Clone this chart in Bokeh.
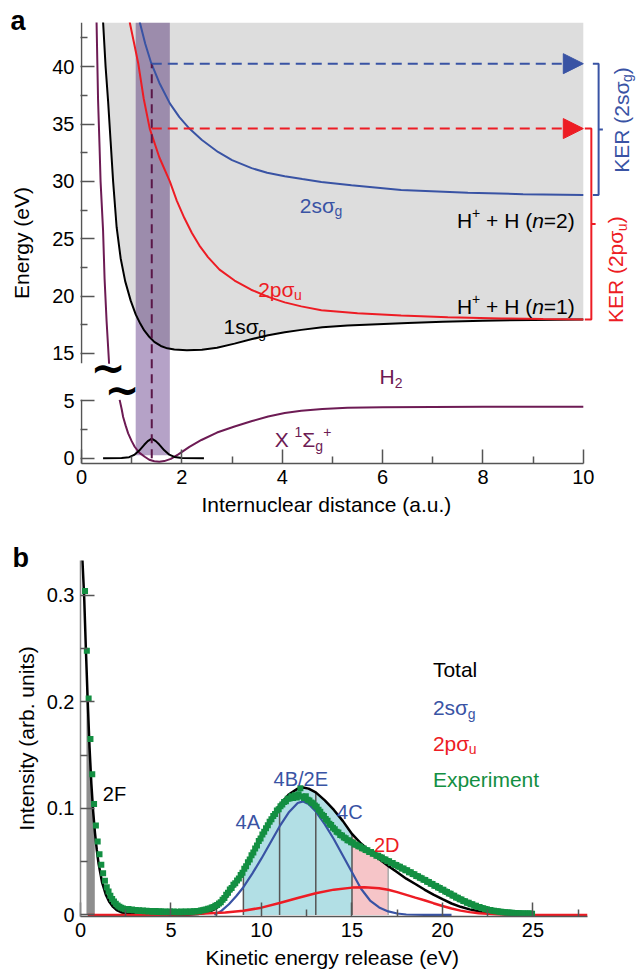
import numpy as np
from math import pi
from bokeh.plotting import figure
from bokeh.layouts import column
from bokeh.models import (FixedTicker, CustomJSTickFormatter, Arrow, NormalHead, Range1d, Title)
from bokeh.core.properties import value
from bokeh.embed import file_html
from bokeh.resources import INLINE

FONT = "Liberation Sans"
BLUE = "#3953a4"
RED = "#ed1c24"
PURPLE = "#6d1b54"
GREEN = "#138f42"
AX = "#555555"

# ------------------------------------------------------------------ panel a data
OFFSET = 5.85  # axis break: energies above the break are drawn shifted down by OFFSET

r_1s = [0.43, 0.48, 0.53, 0.58, 0.63, 0.70, 0.78, 0.87, 0.98, 1.08, 1.17, 1.25, 1.35, 1.45,
        1.58, 1.71, 1.85, 2.10, 2.40, 2.70, 3.05, 3.40, 3.72, 4.05, 4.38, 4.80, 5.30, 5.90,
        6.50, 7.20, 8.00, 9.00, 10.00]
e_1s = [43.9, 40.0, 37.0, 33.5, 30.0, 26.0, 23.3, 21.3, 19.6, 18.4, 17.6, 17.0, 16.45, 16.0,
        15.65, 15.44, 15.33, 15.28, 15.32, 15.5, 15.85, 16.25, 16.58, 16.85, 17.05, 17.27, 17.43, 17.55,
        17.66, 17.76, 17.85, 17.92, 17.96]

r_2p = [0.96, 1.05, 1.13, 1.24, 1.36, 1.55, 1.76, 1.90, 2.05, 2.20, 2.35, 2.52, 2.75, 3.05,
        3.38, 3.72, 4.05, 4.38, 4.78, 5.50, 6.37, 7.30, 8.37, 9.20, 10.00]
e_2p = [43.9, 42.0, 40.3, 37.2, 34.6, 32.1, 30.0, 28.3, 26.8, 25.5, 24.4, 23.4, 22.3, 21.35,
        20.55, 19.93, 19.45, 19.1, 18.77, 18.5, 18.3, 18.15, 18.05, 18.0, 17.96]

r_2s = [1.16, 1.27, 1.39, 1.55, 1.76, 1.95, 2.15, 2.40, 2.72, 3.00, 3.39, 3.70, 4.05, 4.40,
        4.78, 5.38, 6.37, 7.70, 8.80, 10.00]
e_2s = [43.9, 42.0, 40.3, 38.6, 36.8, 35.6, 34.6, 33.6, 32.56, 31.85, 31.15, 30.75, 30.45, 30.2,
        29.95, 29.66, 29.25, 29.0, 28.88, 28.8]

r_h2_wall = [0.30, 0.33, 0.36, 0.38, 0.43, 0.46, 0.50, 0.55]
e_h2_wall = [43.9, 37.1, 33.0, 30.0, 25.7, 21.5, 17.8, 14.1]

r_h2 = [0.76, 0.80, 0.83, 0.88, 0.93, 1.00, 1.06, 1.15, 1.26, 1.35, 1.45, 1.55, 1.65, 1.78,
        1.93, 2.15, 2.39, 2.70, 3.05, 3.40, 3.72, 4.05, 4.38, 4.80, 5.30, 6.00, 7.00, 8.00, 10.00]
e_h2 = [5.1, 4.3, 3.6, 2.85, 2.18, 1.5, 1.01, 0.5, 0.14, -0.12, -0.26, -0.3, -0.24, -0.05,
        0.35, 1.0, 1.6, 2.25, 2.78, 3.25, 3.65, 3.95, 4.15, 4.3, 4.4, 4.45, 4.48, 4.5, 4.5]

r_psi = [0.43, 0.80, 0.95, 1.05, 1.15, 1.25, 1.32, 1.40, 1.48, 1.55, 1.65, 1.75, 1.85, 2.00, 2.44]
a_psi = [0.0, 0.02, 0.10, 0.30, 0.68, 1.18, 1.50, 1.72, 1.50, 1.20, 0.70, 0.32, 0.12, 0.02, 0.0]

fc_region = [1.08, 1.76]      # Franck-Condon region (a.u.)
r_eq = 1.40                   # equilibrium distance
ker_2s_top = 40.26            # eV, energy at r_eq on 2s sigma_g
ker_2p_top = 34.6             # eV, energy at r_eq on 2p sigma_u

yticks_lower = [0, 5]
yticks_upper = [15, 20, 25, 30, 35, 40]
yminor_lower = [2.5]
yminor_upper = [17.5, 22.5, 27.5, 32.5, 37.5, 42.5]
xticks_a = [0, 2, 4, 6, 8, 10]
xminor_a = [1, 3, 5, 7, 9]

# ------------------------------------------------------------------ panel b data
tot_x = [0.10, 0.20, 0.30, 0.40, 0.50, 0.60, 0.70, 0.80, 0.90, 1.00, 1.20, 1.40, 1.60, 1.80, 2.00,
         2.30, 2.60, 3.00, 4.00, 5.00, 6.00, 6.50, 7.00, 7.50, 8.00, 8.50, 9.00, 9.50, 10.00,
         10.50, 11.00, 11.50, 12.00, 12.30, 12.60, 13.00, 13.50, 14.00, 14.50, 15.00, 15.50,
         16.00, 16.50, 17.00, 17.50, 18.00, 18.50, 19.00, 19.50, 20.00, 20.50, 21.00, 21.50,
         22.00, 22.50, 23.00, 24.00, 25.00]
tot_y = [0.335, 0.300, 0.248, 0.200, 0.157, 0.123, 0.097, 0.077, 0.061, 0.048, 0.030, 0.019,
         0.012, 0.0075, 0.0046, 0.0022, 0.0011, 0.0005, 0.0002, 0.0002, 0.0004, 0.0009, 0.0022,
         0.0060, 0.0150, 0.0270, 0.0420, 0.0585, 0.0750, 0.0900, 0.1030, 0.1130, 0.1185, 0.1195,
         0.1185, 0.1150, 0.1075, 0.0985, 0.0880, 0.0760, 0.0670, 0.0595, 0.0525, 0.0460, 0.0400,
         0.0340, 0.0290, 0.0238, 0.0190, 0.0147, 0.0107, 0.0076, 0.0052, 0.0034, 0.0020, 0.0012,
         0.0004, 0.0001]

sg_x = [7.40, 7.80, 8.20, 8.60, 9.00, 9.50, 10.00, 10.50, 11.00, 11.50, 12.00, 12.30, 12.60,
        13.00, 13.50, 14.00, 14.50, 15.00, 15.50, 16.00, 16.50, 17.00, 17.50, 18.00, 19.00, 20.50]
sg_y = [0.0, 0.0040, 0.0100, 0.0175, 0.0260, 0.0390, 0.0530, 0.0680, 0.0830, 0.0960, 0.1050,
        0.1065, 0.1040, 0.0970, 0.0850, 0.0710, 0.0555, 0.0400, 0.0245, 0.0135, 0.0070, 0.0033,
        0.0013, 0.0004, 0.0, 0.0]

pu_x = [0.40, 4.0, 6.0, 8.0, 9.0, 10.0, 11.0, 12.0, 13.0, 14.0, 15.0, 15.7, 16.5, 17.0, 17.5,
        18.0, 18.5, 19.0, 19.5, 20.0, 20.5, 21.0, 21.5, 22.0, 23.0, 24.0, 28.0]
pu_y = [0.0, 0.0, 0.0005, 0.0022, 0.0038, 0.0068, 0.0112, 0.0158, 0.0203, 0.0237, 0.0256,
        0.0260, 0.0250, 0.0236, 0.0214, 0.0188, 0.0162, 0.0138, 0.0110, 0.0084, 0.0060, 0.0040,
        0.0026, 0.0015, 0.0005, 0.0001, 0.0]

exp_first_bin = 0.25   # eV, centre of first KER bin
exp_bin_width = 0.1    # eV
exp_y = [
    .304, .248, .203, .165, .132, .104, .084, .069,
    .057, .047, .039, .032, .026, .022, .018, .015, .0125, .0105,
    .0088, .0076, .0066, .0059, .0054, .0050, .0056, .0046, .0050, .0043,
    .0047, .0040, .0044, .0036, .0042, .0034, .0039, .0031, .0037, .0033,
    .0030, .0036, .0028, .0034, .0031, .0026, .0033, .0029, .0025, .0031,
    .0027, .0032, .0024, .0029, .0026, .0032, .0025, .0029, .0031, .0027,
    .0032, .0029, .0035, .0031, .0037, .0035, .0041, .0043, .0048, .0051,
    .0057, .0061, .0069, .0074, .0086, .0093, .0107, .0118, .0142, .0158,
    .0188, .0207, .0238, .0252, .0283, .0297, .0324, .0342, .0374, .0396,
    .0434, .0457, .0493, .0521, .0559, .0586, .0624, .0651, .0694, .0716,
    .0754, .0781, .0814, .0842, .0874, .0897, .0929, .0947, .0979, .0992,
    .1019, .1036, .1059, .1066, .1089, .1092, .1114, .1097, .1123, .1102,
    .1132, .1188, .1112, .1098, .1113, .1081, .1073, .1056, .1049, .1026,
    .1014, .0986, .0969, .0941, .0928, .0901, .0884, .0856, .0843, .0817,
    .0803, .0781, .0774, .0751, .0744, .0726, .0719, .0701, .0699, .0681,
    .0679, .0661, .0658, .0644, .0641, .0626, .0623, .0608, .0606, .0591,
    .0590, .0574, .0573, .0556, .0555, .0541, .0538, .0523, .0521, .0506,
    .0503, .0488, .0486, .0471, .0469, .0454, .0452, .0436, .0435, .0419,
    .0418, .0401, .0400, .0384, .0381, .0366, .0363, .0348, .0345, .0329,
    .0328, .0311, .0308, .0293, .0290, .0274, .0271, .0256, .0253, .0237,
    .0235, .0219, .0216, .0200, .0198, .0182, .0179, .0164, .0161, .0147,
    .0145, .0131, .0129, .0115, .0113, .0100, .0099, .0087, .0086, .0075,
    .0074, .0064, .0063, .0055, .0054, .0047, .0046, .0040, .0040, .0035,
    .0034, .0030, .0030, .0026, .0026, .0023, .0023, .0020, .0020, .0018,
    .0018, .0016, .0016, .0014, .0014, .0013, .0013, .0012, .0012, .0011,
]
exp_x = [round(exp_first_bin + i * exp_bin_width, 3) for i in range(len(exp_y))]

band_2F = [0.33, 0.79]
region_edges = [9, 11, 13, 15, 17]
xticks_b = [0, 5, 10, 15, 20, 25]
xminor_b = [2.5, 7.5, 12.5, 17.5, 22.5, 27.5]
yticks_b = [0, 0.1, 0.2, 0.3]
yminor_b = [0.05, 0.15, 0.25]

# ------------------------------------------------------------------ helpers
CW = {' ': .278, '(': .333, ')': .333, '+': .584, '=': .584, '.': .278, '/': .278,
      'A': .667, 'B': .667, 'C': .722, 'D': .722, 'E': .667, 'F': .611, 'H': .722, 'K': .667,
      'R': .722, 'T': .611, 'X': .667, 'a': .556, 'e': .556, 'g': .556, 'i': .222, 'l': .222,
      'm': .833, 'n': .556, 'o': .556, 'p': .556, 'r': .333, 's': .5, 't': .278, 'u': .556,
      'x': .5, 'σ': .6, 'Σ': .62}


def tw(s, fs):
    return sum(CW.get(c, .556) for c in s) * fs


def rich(p, x, y, parts, color, fs=21, angle=0.0, align="left"):
    sizes = [fs if k in ("n", "i") else round(fs * 0.68) for _, k in parts]
    total = sum(tw(t, s) for (t, _), s in zip(parts, sizes))
    off = -total if align == "right" else (-total / 2 if align == "center" else 0.0)
    for (t, k), s in zip(parts, sizes):
        shift = {"n": 0.0, "i": 0.0, "sub": 0.28 * fs, "sup": -0.38 * fs}[k]
        lead = len(t) - len(t.lstrip(" "))
        core = t.strip(" ")
        trail = len(t) - lead - len(core)
        off += lead * CW[" "] * s
        if core:
            if angle == 0:
                xo, yo = off, shift
            else:
                xo, yo = shift, -off
            p.text(x=[x], y=[y], text=[core], x_offset=xo, y_offset=yo, angle=angle,
                   text_font=value(FONT), text_font_size=f"{s}px", text_color=color,
                   text_font_style="italic" if k == "i" else "normal",
                   text_align="left", text_baseline="alphabetic")
        off += tw(core, s) + trail * CW[" "] * s


def style_axis(ax, label_standoff=6):
    ax.major_tick_in = 14
    ax.major_tick_out = 0
    ax.minor_tick_in = 7
    ax.minor_tick_out = 0
    ax.axis_line_color = AX
    ax.major_tick_line_color = AX
    ax.minor_tick_line_color = AX
    ax.axis_line_width = 1.5
    ax.major_tick_line_width = 1.5
    ax.minor_tick_line_width = 1.5
    ax.major_label_text_font = FONT
    ax.major_label_text_font_size = "20px"
    ax.major_label_text_color = "black"
    ax.axis_label_text_font = FONT
    ax.axis_label_text_font_size = "21px"
    ax.axis_label_text_font_style = "normal"
    ax.axis_label_text_color = "black"
    ax.major_label_standoff = 6
    ax.axis_label_standoff = label_standoff


def panel_letter(p, letter, offset, standoff):
    p.add_layout(Title(text=letter, align="left", offset=offset, standoff=standoff,
                       text_font=FONT, text_font_size="27px", text_font_style="bold",
                       text_color="black"), "above")


def up(e):
    return e - OFFSET


NB = "\u00a0"

# ------------------------------------------------------------------ panel a
TOP_A = 38.0
pa = figure(width=636, height=525, x_range=Range1d(-0.02, 11.06), y_range=Range1d(-0.45, TOP_A),
            output_backend="svg", toolbar_location=None, title=None,
            min_border_left=80, min_border_right=0, min_border_top=22, min_border_bottom=62)
pa.grid.visible = False
pa.outline_line_color = None

style_axis(pa.xaxis[0])
style_axis(pa.yaxis[0], label_standoff=16)
pa.xaxis[0].ticker = FixedTicker(ticks=xticks_a, minor_ticks=xminor_a)
pa.xaxis[0].bounds = (0, 10)
pa.xaxis[0].axis_label = "Internuclear distance (a.u.)" + NB * 11
pa.yaxis[0].ticker = FixedTicker(
    ticks=yticks_lower + [round(up(e), 3) for e in yticks_upper],
    minor_ticks=yminor_lower + [round(up(e), 3) for e in yminor_upper])
pa.yaxis[0].formatter = CustomJSTickFormatter(
    code=f"return (tick < 7 ? tick : tick + {OFFSET}).toFixed(0);")
pa.yaxis[0].axis_label = "Energy (eV)"
pa.yaxis[0].axis_line_color = None

# broken left spine
pa.line(x=[0, 0], y=[-0.45, 5.1], line_color=AX, line_width=1.5)
pa.line(x=[0, 0], y=[up(14.15), TOP_A], line_color=AX, line_width=1.5)

# Franck-Condon band, then the continuum shading above 1s sigma_g
pa.quad(left=[fc_region[0]], right=[fc_region[1]], bottom=[0.27], top=[TOP_A],
        fill_color="#b5a2c7", line_color=None)
pa.varea(x=r_1s, y1=[up(e) for e in e_1s], y2=[TOP_A] * len(r_1s),
         fill_color="black", fill_alpha=0.135)

# potential curves
pa.line(r_h2_wall, [up(e) for e in e_h2_wall], line_color=PURPLE, line_width=2)
pa.line(r_h2, e_h2, line_color=PURPLE, line_width=2)
pa.line(r_1s, [up(e) for e in e_1s], line_color="black", line_width=2)
pa.line(r_2p, [up(e) for e in e_2p], line_color=RED, line_width=2)
pa.line(r_2s, [up(e) for e in e_2s], line_color=BLUE, line_width=2)
pa.line(r_psi, a_psi, line_color="black", line_width=2)

# break marks
pa.text(x=[0.53, 0.81], y=[7.8, 5.95], text=["~", "~"], text_font=value("DejaVu Sans"),
        text_font_style="bold", text_font_size="42px", text_align="center",
        text_baseline="middle", text_color="black")

# vertical transition and KER arrows
pa.line(x=[r_eq, r_eq], y=[0, up(ker_2s_top)], line_color="#5a1748", line_width=2,
        line_dash="9 6")
for ek, col in [(ker_2s_top, BLUE), (ker_2p_top, RED)]:
    pa.add_layout(Arrow(end=NormalHead(size=20, fill_color=col, line_color=col),
                        x_start=r_eq, y_start=up(ek), x_end=10.0, y_end=up(ek),
                        line_color=col, line_width=2, line_dash="10 6"))

# KER brackets
b_top, b_bot = up(ker_2s_top), up(e_2s[-1])
pa.line([10.19, 10.305, 10.305, 10.19], [b_top, b_top, b_bot, b_bot], line_color=BLUE,
        line_width=2)
pa.line([10.305, 10.39], [(b_top + b_bot) / 2] * 2, line_color=BLUE, line_width=2)
r_top, r_bot = up(ker_2p_top), up(e_2p[-1])
pa.line([10.03, 10.16, 10.16, 10.03], [r_top, r_top, r_bot, r_bot], line_color=RED,
        line_width=2)
pa.line([10.16, 10.245], [(r_top + r_bot) / 2] * 2, line_color=RED, line_width=2)

# labels
rich(pa, 4.35, up(27.92), [("2sσ", "n"), ("g", "sub")], BLUE)
rich(pa, 9.83, up(26.55), [("H", "n"), ("+", "sup"), (" + H (", "n"), ("n", "i"), ("=2)", "n")],
     "black", align="right")
rich(pa, 3.52, up(20.57), [("2pσ", "n"), ("u", "sub")], RED)
rich(pa, 9.83, up(19.06), [("H", "n"), ("+", "sup"), (" + H (", "n"), ("n", "i"), ("=1)", "n")],
     "black", align="right")
rich(pa, 2.83, up(17.32), [("1sσ", "n"), ("g", "sub")], "black")
rich(pa, 5.94, 7.1, [("H", "n"), ("2", "sub")], PURPLE)
rich(pa, 3.85, 1.6, [("X ", "n"), ("1", "sup"), ("Σ", "n"), ("g", "sub"), ("+", "sup")], PURPLE)
rich(pa, 10.76, up(30.75), [("KER (2sσ", "n"), ("g", "sub"), (")", "n")], BLUE, angle=pi / 2)
rich(pa, 10.65, up(17.64), [("KER (2pσ", "n"), ("u", "sub"), (")", "n")], RED, angle=pi / 2)

panel_letter(pa, "a", -70, -26)

# ------------------------------------------------------------------ panel b
TOP_B = 0.3326
pb = figure(width=636, height=446, x_range=Range1d(0, 30.72), y_range=Range1d(-0.0015, TOP_B),
            output_backend="svg", toolbar_location=None, title=None,
            min_border_left=80, min_border_right=0, min_border_top=35, min_border_bottom=53)
pb.grid.visible = False
pb.outline_line_color = None
style_axis(pb.xaxis[0])
style_axis(pb.yaxis[0])
pb.yaxis[0].axis_line_color = "#888888"
pb.xaxis[0].bounds = (0, 28)
pb.xaxis[0].ticker = FixedTicker(ticks=xticks_b, minor_ticks=xminor_b)
pb.yaxis[0].ticker = FixedTicker(ticks=yticks_b, minor_ticks=yminor_b)
pb.yaxis[0].formatter = CustomJSTickFormatter(code="return tick == 0 ? '0' : tick.toFixed(1);")
pb.xaxis[0].axis_label = "Kinetic energy release (eV)" + NB * 9
pb.yaxis[0].axis_label = "Intensity (arb. units)"


def fill_under(p, lo, hi, color):
    xs = [lo] + [x for x in tot_x if lo < x < hi] + [hi]
    ys = list(np.interp(xs, tot_x, tot_y))
    p.varea(x=xs, y1=[0] * len(xs), y2=ys, fill_color=color)


fill_under(pb, band_2F[0], band_2F[1], "#8e8e8e")
fill_under(pb, region_edges[0], region_edges[3], "#b2dfe5")
fill_under(pb, region_edges[3], region_edges[4], "#f6c5c8")
edge_h = list(np.interp(region_edges, tot_x, tot_y))
pb.segment(x0=region_edges, y0=[0] * 5, x1=region_edges, y1=edge_h,
           line_color=["#555555"] * 4 + ["#aaaaaa"], line_width=1.5)

pb.line(tot_x, tot_y, line_color="black", line_width=2.5)
pb.line(sg_x, sg_y, line_color=BLUE, line_width=2.2)
pb.line(pu_x, pu_y, line_color=RED, line_width=2.5)
pb.scatter(exp_x, exp_y, marker="square", size=6, fill_color=GREEN, line_color=None)

rich(pb, 19.47, 0.2304, [("Total", "n")], "black")
rich(pb, 19.47, 0.1945, [("2sσ", "n"), ("g", "sub")], BLUE)
rich(pb, 19.47, 0.1613, [("2pσ", "n"), ("u", "sub")], RED)
rich(pb, 19.47, 0.1272, [("Experiment", "n")], GREEN)

rich(pb, 12.17, 0.128, [("4B/2E", "n")], BLUE, fs=20, align="center")
rich(pb, 9.24, 0.0876, [("4A", "n")], BLUE, fs=20, align="center")
rich(pb, 14.88, 0.0968, [("4C", "n")], BLUE, fs=20, align="center")
rich(pb, 16.92, 0.0654, [("2D", "n")], RED, fs=20, align="center")
rich(pb, 1.23, 0.1134, [("2F", "n")], "black", fs=20)

panel_letter(pb, "b", -68, -24)

layout = column(pa, pb)
open("out.html", "w").write(file_html(layout, INLINE))
